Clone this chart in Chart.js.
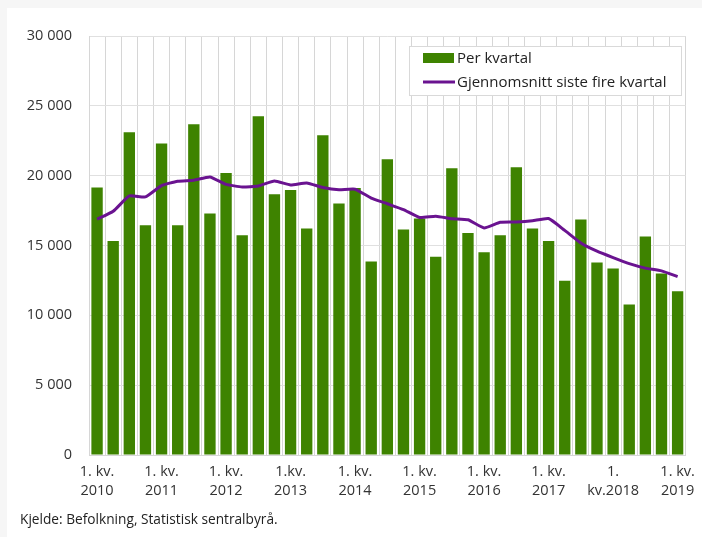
<!DOCTYPE html>
<html>
<head>
<meta charset="utf-8">
<script src="https://cdn.jsdelivr.net/npm/chart.js@4/dist/chart.umd.min.js"></script>
<style>
  html, body { margin: 0; padding: 0; }
  body { width: 702px; height: 537px; background: #f6f6f6; position: relative; overflow: hidden; font-family: "Open Sans", sans-serif; }
  #panel { position: absolute; left: 7px; top: 8px; right: 0; bottom: 0; background: #ffffff; }
  #wrap { position: absolute; left: 0; top: 0; width: 702px; height: 537px; }
  #source { position: absolute; left: 20px; top: 509px; font-size: 13.7px; line-height: 19px; color: #222; font-family: "Open Sans", sans-serif; }
</style>
</head>
<body>
<div id="panel"></div>
<div id="wrap"><canvas id="c" width="702" height="537"></canvas></div>
<div id="source">Kjelde: Befolkning, Statistisk sentralbyrå.</div>
<script>
const categories = [
  "2010K1","2010K2","2010K3","2010K4",
  "2011K1","2011K2","2011K3","2011K4",
  "2012K1","2012K2","2012K3","2012K4",
  "2013K1","2013K2","2013K3","2013K4",
  "2014K1","2014K2","2014K3","2014K4",
  "2015K1","2015K2","2015K3","2015K4",
  "2016K1","2016K2","2016K3","2016K4",
  "2017K1","2017K2","2017K3","2017K4",
  "2018K1","2018K2","2018K3","2018K4",
  "2019K1"
];
const perKvartal = [
  19150, 15330, 23100, 16450,
  22300, 16450, 23680, 17290,
  20190, 15740, 24250, 18670,
  18980, 16220, 22890, 18000,
  19120, 13860, 21170, 16150,
  16930, 14190, 20530, 15900,
  14520, 15740, 20600, 16220,
  15330, 12470, 16860, 13780,
  13350, 10780, 15640, 13000,
  11730
];
const gjennomsnitt = [
  16880, 17450, 18550, 18480,
  19290, 19600, 19670, 19910,
  19380, 19190, 19260, 19620,
  19340, 19480, 19150, 18990,
  19030, 18400, 17990, 17570,
  17010, 17100, 16920, 16840,
  16260, 16670, 16690, 16770,
  16930, 16080, 15180, 14590,
  14130, 13700, 13380, 13180,
  12770
];
// tick labels shown at every 4th category (index -> label lines)
const tickLabels = {
  0: ["1. kv.", "2010"],
  4: ["1. kv.", "2011"],
  8: ["1. kv.", "2012"],
  12: ["1.kv.", "2013"],
  16: ["1. kv.", "2014"],
  20: ["1. kv.", "2015"],
  24: ["1. kv.", "2016"],
  28: ["1. kv.", "2017"],
  32: ["1.", "kv.2018"],
  36: ["1. kv.", "2019"]
};
const yTicks = [0, 5000, 10000, 15000, 20000, 25000, 30000];
const seriesNames = ["Per kvartal", "Gjennomsnitt siste fire kvartal"];

const GREEN = "#3e8300";
const PURPLE = "#6a1390";
const FONT = "'Open Sans', sans-serif";

function fmt(v) {
  return String(v).replace(/\B(?=(\d{3})+(?!\d))/g, " ");
}

const legendPlugin = {
  id: "boxLegend",
  afterDraw(chart) {
    const ctx = chart.ctx;
    const x0 = 409.5, y0 = 46.5, w = 272, h = 49;
    ctx.save();
    ctx.fillStyle = "#ffffff";
    ctx.fillRect(x0, y0, w, h);
    ctx.strokeStyle = "#d9d9d9";
    ctx.lineWidth = 1;
    ctx.strokeRect(x0, y0, w, h);
    // item 1
    ctx.fillStyle = chart.data.datasets[0].backgroundColor;
    ctx.fillRect(423, 53, 31, 10);
    // item 2
    ctx.strokeStyle = chart.data.datasets[1].borderColor;
    ctx.lineWidth = 3;
    ctx.beginPath();
    ctx.moveTo(423, 82);
    ctx.lineTo(455, 82);
    ctx.stroke();
    ctx.fillStyle = "#222";
    ctx.font = "15px " + FONT;
    ctx.textBaseline = "middle";
    ctx.textAlign = "left";
    ctx.fillText(chart.data.datasets[0].label, 457, 58.5);
    ctx.fillText(chart.data.datasets[1].label, 457, 82.5);
    ctx.restore();
  }
};

new Chart(document.getElementById("c"), {
  data: {
    labels: categories,
    datasets: [
      {
        type: "bar",
        label: seriesNames[0],
        data: perKvartal,
        backgroundColor: GREEN,
        borderWidth: 0,
        barPercentage: 0.8,
        categoryPercentage: 0.88,
        order: 2
      },
      {
        type: "line",
        label: seriesNames[1],
        data: gjennomsnitt,
        borderColor: PURPLE,
        backgroundColor: PURPLE,
        borderWidth: 3,
        pointRadius: 0,
        tension: 0.15,
        fill: false,
        order: 1
      }
    ]
  },
  options: {
    responsive: false,
    animation: false,
    devicePixelRatio: 1,
    layout: { padding: { left: 0, top: 36, right: 9, bottom: 27 } },
    plugins: {
      legend: { display: false },
      tooltip: { enabled: false }
    },
    scales: {
      x: {
        offset: true,
        grid: { display: true, offset: true, color: "#d6d6d6", drawTicks: false, lineWidth: 1 },
        border: { display: true, color: "#d6d6d6" },
        ticks: {
          autoSkip: false,
          maxRotation: 0,
          minRotation: 0,
          padding: 7,
          color: "#333",
          font: { family: FONT, size: 14.5, lineHeight: 1.31 },
          callback: function (v, i) { return tickLabels[i] || ""; }
        },
        afterFit: function (s) { s.height = 55; }
      },
      y: {
        min: 0,
        max: 30000,
        afterBuildTicks: function (s) { s.ticks = yTicks.map(v => ({ value: v })); },
        grid: { color: "#e0e0e0", drawTicks: false },
        border: { display: true, color: "#d6d6d6" },
        ticks: {
          padding: 17,
          color: "#333",
          font: { family: FONT, size: 14.5 },
          callback: function (v) { return fmt(v); }
        },
        afterFit: function (s) { s.width = 89; }
      }
    }
  },
  plugins: [legendPlugin]
});
</script>
</body>
</html>
